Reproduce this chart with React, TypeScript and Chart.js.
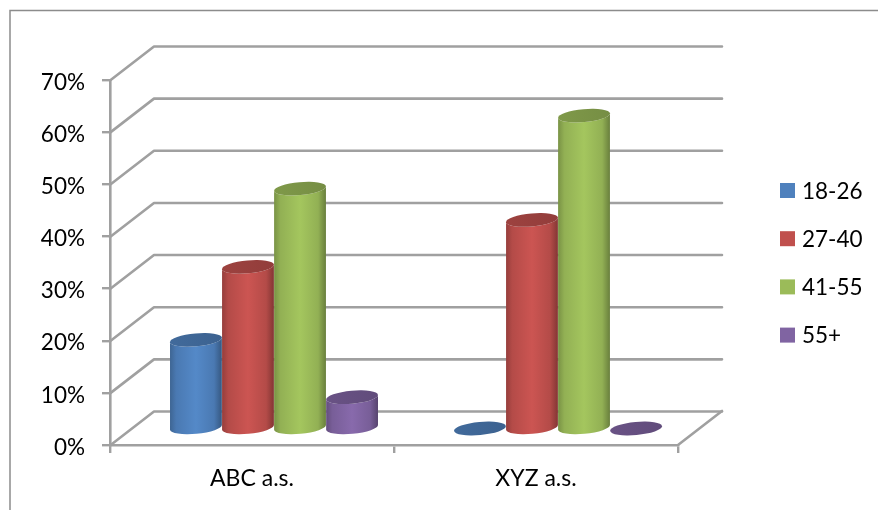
import React, { useEffect, useRef } from "react";
import { Chart, registerables } from "chart.js";

Chart.register(...registerables);

const categories = ["ABC a.s.", "XYZ a.s."];
const ageGroups = ["18-26", "27-40", "41-55", "55+"];
const group1826 = [17, 0];
const group2740 = [31, 40];
const group4155 = [46, 60];
const group55plus = [6, 0];
const groupColors = ["#4F81BD", "#C0504D", "#9BBB59", "#8064A2"];

const FONT = "Lato, Carlito, sans-serif";
const GRID = "#a0a0a0";
const INK = "#000";
const DEPTH_X = 44;
const DEPTH_Y = 34;

// Scales an RGB hex colour by a brightness factor.
function shade(hex: string, f: number) {
  const n = parseInt(hex.slice(1), 16);
  const c = [(n >> 16) & 255, (n >> 8) & 255, n & 255].map((v) =>
    Math.max(0, Math.min(255, Math.round(v * f)))
  );
  return `rgb(${c[0]},${c[1]},${c[2]})`;
}

// Outer frame of the chart object: only its top and left edges are visible.
const framePlugin = {
  id: "frame",
  beforeDraw(chart: any) {
    const { ctx, width, height } = chart;
    ctx.save();
    ctx.strokeStyle = "#8c8c8c";
    ctx.lineWidth = 1.5;
    ctx.beginPath();
    ctx.moveTo(10, height);
    ctx.lineTo(10, 10.5);
    ctx.lineTo(width, 10.5);
    ctx.stroke();
    ctx.restore();
  },
};

// Back wall, side wall and floor, projected from the value axis.
function drawWalls(chart: any) {
  const { ctx, chartArea, scales } = chart;
  ctx.save();
  ctx.strokeStyle = GRID;
  ctx.lineWidth = 2.6;
  ctx.lineCap = "round";
  ctx.lineJoin = "round";
  for (const tick of scales.y.ticks) {
    const y = scales.y.getPixelForValue(tick.value) + 0.5;
    ctx.beginPath();
    ctx.moveTo(chartArea.left, y);
    ctx.lineTo(chartArea.left + DEPTH_X, y - DEPTH_Y);
    ctx.lineTo(chartArea.right + DEPTH_X, y - DEPTH_Y);
    ctx.stroke();
  }
  ctx.beginPath();
  ctx.moveTo(chartArea.right, chartArea.bottom);
  ctx.lineTo(chartArea.right + DEPTH_X, chartArea.bottom - DEPTH_Y);
  ctx.stroke();
  ctx.restore();
}

// One shaded cylinder standing in the middle of the floor's depth.
function drawCylinder(ctx: CanvasRenderingContext2D, bar: any, color: string) {
  const rx = bar.width / 2;
  const ry = 6.5;
  const tilt = -0.09;
  const cx = bar.x + DEPTH_X / 2;
  const top = bar.y - DEPTH_Y / 2 + 0.5;
  const base = bar.base - DEPTH_Y / 2 + 0.5;
  const dx = rx * Math.cos(tilt);
  const dy = rx * Math.sin(tilt);

  if (base - top > 0.5) {
    const g = ctx.createLinearGradient(cx - dx, 0, cx + dx, 0);
    g.addColorStop(0, shade(color, 0.78));
    g.addColorStop(0.12, shade(color, 0.94));
    g.addColorStop(0.5, shade(color, 1.06));
    g.addColorStop(0.85, shade(color, 0.94));
    g.addColorStop(1, shade(color, 0.68));
    ctx.fillStyle = g;
    ctx.beginPath();
    ctx.moveTo(cx - dx, top - dy);
    ctx.lineTo(cx - dx, base - dy);
    ctx.ellipse(cx, base, rx, ry, tilt, Math.PI, 0, true);
    ctx.lineTo(cx + dx, top + dy);
    ctx.ellipse(cx, top, rx, ry, tilt, 0, Math.PI, false);
    ctx.closePath();
    ctx.fill();
  }

  const lid = ctx.createLinearGradient(cx - dx, 0, cx + dx, 0);
  lid.addColorStop(0, shade(color, 0.82));
  lid.addColorStop(1, shade(color, 0.76));
  ctx.fillStyle = lid;
  ctx.beginPath();
  ctx.ellipse(cx, top, rx, ry, tilt, 0, Math.PI * 2);
  ctx.fill();
}

const cylinderPlugin = {
  id: "cylinders",
  beforeDatasetsDraw(chart: any) {
    const { ctx } = chart;
    drawWalls(chart);
    ctx.save();
    chart.data.datasets.forEach((ds: any, i: number) => {
      chart.getDatasetMeta(i).data.forEach((bar: any) => {
        drawCylinder(ctx, bar, ds.backgroundColor);
      });
    });
    ctx.restore();
    return false;
  },
};

// Percentage labels sit slightly under their tick marks.
const valueLabelPlugin = {
  id: "valueLabels",
  afterDraw(chart: any) {
    const { ctx, scales } = chart;
    ctx.save();
    ctx.font = `22.5px ${FONT}`;
    ctx.fillStyle = INK;
    ctx.textAlign = "right";
    ctx.textBaseline = "middle";
    for (const tick of scales.y.ticks) {
      ctx.fillText(`${tick.value}%`, 85, scales.y.getPixelForValue(tick.value) + 2.5);
    }
    ctx.restore();
  },
};

// Legend column to the right of the plot.
const legendPlugin = {
  id: "sideLegend",
  afterDraw(chart: any) {
    const { ctx } = chart;
    const rowH = 48.2;
    const top = 190.5;
    ctx.save();
    ctx.font = `22.5px ${FONT}`;
    ctx.textAlign = "left";
    ctx.textBaseline = "middle";
    chart.data.datasets.forEach((ds: any, i: number) => {
      const y = top + i * rowH;
      ctx.fillStyle = ds.backgroundColor;
      ctx.fillRect(780, y - 7.5, 15, 15);
      ctx.fillStyle = INK;
      ctx.fillText(ds.label, 802, y + 1);
    });
    ctx.restore();
  },
};

export default function App() {
  const ref = useRef<HTMLCanvasElement>(null);

  useEffect(() => {
    const series = [group1826, group2740, group4155, group55plus];
    const chart = new Chart(ref.current as HTMLCanvasElement, {
      type: "bar",
      data: {
        labels: categories,
        datasets: ageGroups.map((label, i) => ({
          label,
          data: series[i],
          backgroundColor: groupColors[i],
          categoryPercentage: 0.733,
          barPercentage: 1,
        })),
      },
      plugins: [framePlugin, cylinderPlugin, valueLabelPlugin, legendPlugin],
      options: {
        responsive: false,
        animation: false,
        layout: { padding: { top: 80, right: 200, left: 0, bottom: 0 } },
        plugins: { legend: { display: false }, tooltip: { enabled: false } },
        scales: {
          x: {
            afterFit(scale: any) {
              scale.height = 65;
            },
            grid: { drawOnChartArea: false, drawTicks: true, tickLength: 8, color: GRID, lineWidth: 2.4 },
            border: { color: GRID, width: 2.6 },
            ticks: { color: INK, font: { family: FONT, size: 23 }, padding: 12, maxRotation: 0 },
          },
          y: {
            min: 0,
            max: 70,
            afterFit(scale: any) {
              scale.width = 110;
            },
            grid: { drawOnChartArea: false, drawTicks: true, tickLength: 8, color: GRID, lineWidth: 2.4 },
            border: { color: GRID, width: 2.6 },
            ticks: { stepSize: 10, display: false },
          },
        },
      },
    } as any);
    return () => chart.destroy();
  }, []);

  return (
    <div style={{ position: "fixed", left: 0, top: 0, background: "#fff" }}>
      <canvas ref={ref} width={878} height={510} style={{ display: "block" }} />
    </div>
  );
}
